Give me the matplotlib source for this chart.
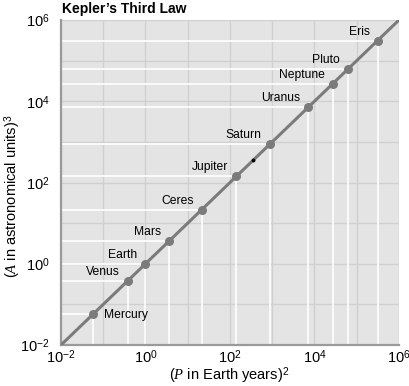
import numpy as np
import matplotlib
matplotlib.use("Agg")
import matplotlib.pyplot as plt

plt.rcParams['font.family'] = ['Liberation Sans', 'DejaVu Sans']
plt.rcParams['mathtext.fontset'] = 'custom'
plt.rcParams['mathtext.rm'] = 'Liberation Sans'
plt.rcParams['mathtext.it'] = 'Liberation Serif:italic'

# semi-major axis (AU) of each body; P^2 = A^3
bodies = ['Mercury', 'Venus', 'Earth', 'Mars', 'Ceres', 'Jupiter',
          'Saturn', 'Uranus', 'Neptune', 'Pluto', 'Eris']
a_au = [0.387, 0.723, 1.0, 1.524, 2.77, 5.20, 9.54, 19.19, 30.07, 39.48, 67.8]
a_cubed = np.array(a_au) ** 3
p_squared = a_cubed.copy()
stray_dot = 350.0
tick_vals = [1e-2, 1e0, 1e2, 1e4, 1e6]
tick_labels = ['$10^{-2}$', '$10^{0}$', '$10^{2}$', '$10^{4}$', '$10^{6}$']

fig = plt.figure(figsize=(4.10, 3.86), dpi=100)
ax = fig.add_axes([61 / 410, 41 / 386, 338 / 410, 325 / 386])
ax.set_facecolor('#e4e4e4')
ax.set_xscale('log')
ax.set_yscale('log')
lo, hi = 1e-2, 1e6
ax.set_xlim(lo, hi)
ax.set_ylim(lo, hi)

decades = [10.0 ** k for k in range(-2, 7)]
ax.set_xticks(tick_vals)
ax.set_yticks(tick_vals)
ax.set_xticklabels(tick_labels, fontsize=10.5)
ax.set_yticklabels(tick_labels, fontsize=10.5)
ax.xaxis.set_minor_locator(matplotlib.ticker.FixedLocator(decades))
ax.yaxis.set_minor_locator(matplotlib.ticker.FixedLocator(decades))
ax.xaxis.set_minor_formatter(matplotlib.ticker.NullFormatter())
ax.yaxis.set_minor_formatter(matplotlib.ticker.NullFormatter())
ax.tick_params(which='both', length=0)
ax.tick_params(axis='x', pad=2)
ax.tick_params(axis='y', pad=8)
ax.grid(True, which='both', color='#d0d0d0', linewidth=1.0)
ax.set_axisbelow(True)

for s in ['top', 'right']:
    ax.spines[s].set_visible(False)
for s in ['left', 'bottom']:
    ax.spines[s].set_color('#9a9a9a')
    ax.spines[s].set_linewidth(1.6)

# white drop lines
for x, y in zip(p_squared, a_cubed):
    ax.plot([lo, x], [y, y], color='white', lw=1.2, zorder=2)
    ax.plot([x, x], [lo, y], color='white', lw=1.2, zorder=2)

ax.plot([lo, hi], [lo, hi], color='#7b7b7b', lw=2.2, zorder=3,
        solid_capstyle='butt')
ax.plot(p_squared, a_cubed, 'o', color='#7b7b7b', ms=6.5, mec='none', zorder=4)
ax.plot([stray_dot], [stray_dot], 'o', color='black', ms=1.8, zorder=5)

for name, x, y in zip(bodies, p_squared, a_cubed):
    if name == 'Mercury':
        ax.annotate(name, (x, y), xytext=(11, -1), textcoords='offset pixels',
                    ha='left', va='center', fontsize=8.7, zorder=6)
    else:
        ax.annotate(name, (x, y), xytext=(-8, 9), textcoords='offset pixels',
                    ha='right', va='center', fontsize=8.7, zorder=6)

fig.text(62 / 410, 1 - 9 / 386, "Kepler\u2019s Third Law", fontsize=10,
         fontweight='bold', ha='left', va='center')
fig.text(229 / 410, 1 - 376 / 386, '($P$ in Earth years)$^2$', fontsize=10.5,
         ha='center', va='center')
fig.text(13 / 410, 1 - 196 / 386, '($A$ in astronomical units)$^3$',
         fontsize=10.5, ha='center', va='center', rotation=90)

fig.savefig('out.png', dpi=100)
